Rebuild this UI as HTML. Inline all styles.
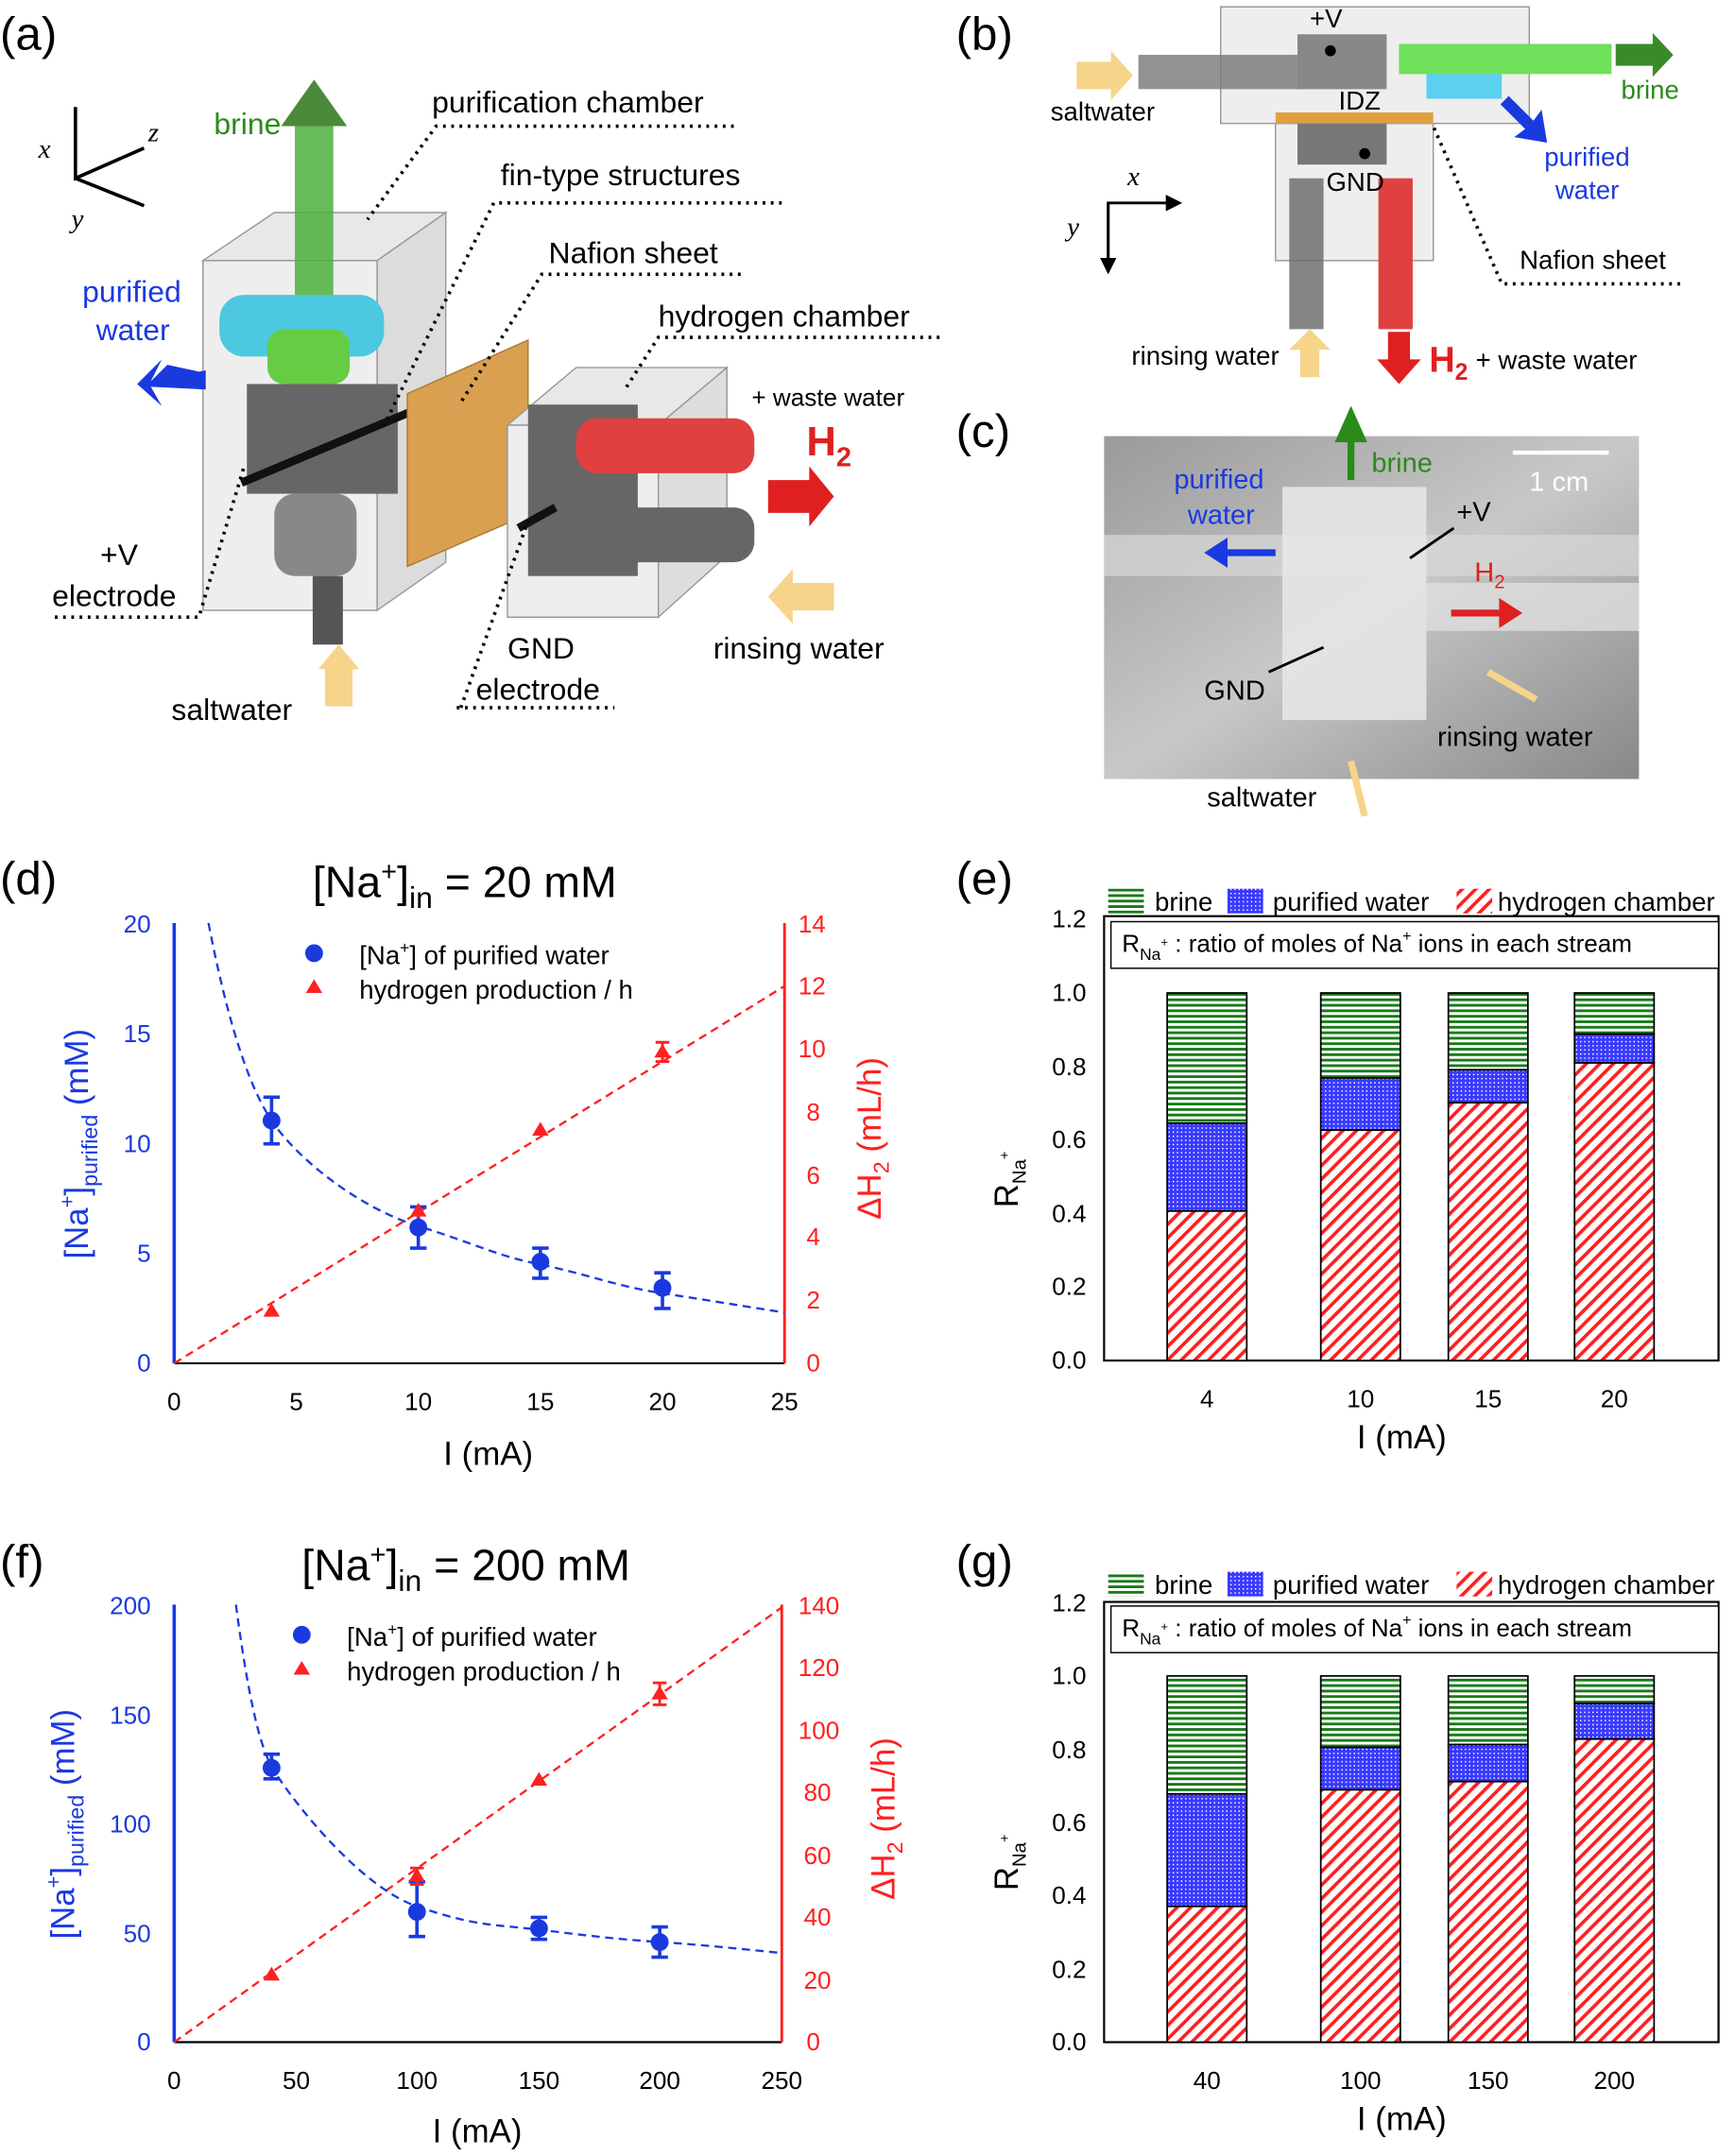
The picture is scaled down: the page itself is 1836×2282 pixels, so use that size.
<!DOCTYPE html>
<html><head><meta charset="utf-8"><style>html,body{margin:0;padding:0;background:#fff}svg{display:block}</style></head>
<body>
<svg xmlns="http://www.w3.org/2000/svg" width="1836" height="2282" viewBox="0 0 1265 1572" preserveAspectRatio="none" font-family="Liberation Sans, Arial, sans-serif">
<defs>
<pattern id="pg" width="6" height="4" patternUnits="userSpaceOnUse"><rect width="6" height="4" fill="#fff"/><rect width="6" height="2" fill="#1a7a1a"/></pattern>
<pattern id="pb" width="3" height="3" patternUnits="userSpaceOnUse"><rect width="3" height="3" fill="#3a3aff"/><rect width="1" height="1" fill="#fff"/></pattern>
<pattern id="pr" width="7" height="7" patternUnits="userSpaceOnUse" patternTransform="rotate(45)"><rect width="7" height="7" fill="#fff"/><rect width="2.5" height="7" fill="#ff2020"/></pattern>
<linearGradient id="ph" x1="0" y1="0" x2="1" y2="1"><stop offset="0" stop-color="#9a9a9a"/><stop offset="0.5" stop-color="#c8c8c8"/><stop offset="1" stop-color="#888"/></linearGradient>
<marker id="ah" markerWidth="6" markerHeight="6" refX="5" refY="3" orient="auto"><path d="M0,0L6,3L0,6z" fill="#000"/></marker>
</defs>
<!-- panel labels -->
<g font-size="34" fill="#000">
<text x="0" y="36">(a)</text><text x="697" y="36">(b)</text><text x="697" y="326">(c)</text>
<text x="0" y="652">(d)</text><text x="697" y="652">(e)</text><text x="0" y="1150">(f)</text><text x="697" y="1150">(g)</text>
</g>
<!-- (a) schematic -->
<g>
<path d="M55,78 V130 L105,108 M55,130 L105,150" stroke="#000" stroke-width="2.5" fill="none"/>
<text x="28" y="115" font-size="20" font-style="italic" font-family="Liberation Serif">x</text>
<text x="108" y="103" font-size="20" font-style="italic" font-family="Liberation Serif">z</text>
<text x="52" y="166" font-size="20" font-style="italic" font-family="Liberation Serif">y</text>
<path d="M148,190 L200,155 H325 L275,190 Z" fill="#e8e8e8" stroke="#999"/>
<rect x="148" y="190" width="127" height="255" fill="#eeeeee" stroke="#999"/>
<path d="M275,190 L325,155 V410 L275,445Z" fill="#dcdcdc" stroke="#999"/>
<rect x="215" y="90" width="28" height="160" fill="#4caf3c" opacity="0.85"/>
<path d="M205,92 L229,58 L253,92Z" fill="#4a8a3a"/>
<rect x="160" y="215" width="120" height="45" rx="18" fill="#4cc8e0"/>
<rect x="195" y="240" width="60" height="40" rx="12" fill="#66cc44"/>
<rect x="180" y="280" width="110" height="80" fill="#666"/>
<rect x="200" y="360" width="60" height="60" rx="15" fill="#888"/>
<rect x="228" y="420" width="22" height="50" fill="#555"/>
<path d="M170,278 L230,255" stroke="#000" stroke-width="0"/>
<line x1="176" y1="352" x2="300" y2="300" stroke="#111" stroke-width="6"/>
<path d="M150,272 L108,280 L122,266 Z M108,280 L120,292" fill="#1a3adf"/>
<path d="M150,270 L110,278 L118,262 L100,280 L118,296 L110,282 L150,284Z" fill="#1a3adf"/>
<rect x="237" y="485" width="20" height="30" fill="#f6d48a"/><path d="M232,488 L247,470 L262,488Z" fill="#f6d48a"/>
<path d="M297,287 L385,248 V375 L297,413Z" fill="#d8a050" stroke="#b07a30"/>
<path d="M370,310 L420,268 H530 L480,310Z" fill="#e8e8e8" stroke="#999"/>
<rect x="370" y="310" width="110" height="140" fill="#eee" stroke="#999"/>
<path d="M480,310 L530,268 V405 L480,450Z" fill="#ddd" stroke="#999"/>
<rect x="385" y="295" width="80" height="125" fill="#666"/>
<rect x="420" y="305" width="130" height="40" rx="15" fill="#e04040"/>
<rect x="430" y="370" width="120" height="40" rx="15" fill="#666"/>
<line x1="378" y1="385" x2="405" y2="370" stroke="#111" stroke-width="6"/>
<path d="M560,350 L590,350 L590,340 L608,362 L590,384 L590,374 L560,374Z" fill="#e02020"/>
<path d="M608,425 L578,425 L578,415 L560,435 L578,455 L578,445 L608,445Z" fill="#f6d48a"/>
<g font-size="22" fill="#000">
<text x="156" y="98" fill="#2a8a1a">brine</text>
<text x="315" y="82">purification chamber</text>
<text x="365" y="135">fin-type structures</text>
<text x="400" y="192">Nafion sheet</text>
<text x="480" y="238">hydrogen chamber</text>
<text x="60" y="220" fill="#1a3adf">purified</text><text x="70" y="248" fill="#1a3adf">water</text>
<text x="548" y="296" font-size="18">+ waste water</text>
<text x="588" y="332" fill="#e02020" font-size="30" font-weight="bold">H<tspan font-size="20" dy="8">2</tspan></text>
<text x="73" y="412">+V</text><text x="38" y="442">electrode</text>
<text x="370" y="480">GND</text><text x="347" y="510">electrode</text>
<text x="520" y="480">rinsing water</text>
<text x="125" y="525">saltwater</text>
</g>
<g stroke="#000" stroke-width="2.5" stroke-dasharray="2,4" fill="none">
<path d="M535,92 H318 L268,160"/><path d="M570,148 H360 L280,310"/><path d="M540,200 H395 L335,295"/>
<path d="M685,246 H480 L455,285"/><path d="M40,450 H145 L178,340"/><path d="M333,516 H448 M336,516 L385,380"/>
</g>
</g>
<!-- (b) -->
<g>
<rect x="890" y="5" width="225" height="85" fill="#eee" stroke="#999"/>
<rect x="930" y="90" width="115" height="100" fill="#eee" stroke="#999"/>
<rect x="830" y="40" width="120" height="25" fill="#777" opacity="0.8"/>
<rect x="1020" y="32" width="155" height="22" fill="#6ee05a"/>
<rect x="1040" y="54" width="55" height="18" fill="#5cd0ef"/>
<rect x="946" y="25" width="65" height="40" fill="#888"/>
<rect x="930" y="82" width="115" height="8" fill="#e0a040"/>
<rect x="946" y="90" width="65" height="30" fill="#777"/>
<rect x="940" y="130" width="25" height="110" fill="#666" opacity="0.8"/>
<rect x="1005" y="130" width="25" height="110" fill="#e04040"/>
<path d="M1178,32 H1205 V24 L1220,40 L1205,56 V48 H1178Z" fill="#3a8a2a"/>
<path d="M785,45 H810 V37 L826,55 L810,73 V65 H785Z" fill="#f6d48a"/>
<path d="M1100,70 L1118,88 L1124,80 L1128,104 L1104,100 L1112,94 L1094,76Z" fill="#1a3adf"/>
<path d="M948,275 V255 H940 L955,240 L970,255 H962 V275Z" fill="#f6d48a"/>
<path d="M1012,242 V262 H1004 L1020,280 L1036,262 H1028 V242Z" fill="#e02020"/>
<circle cx="970" cy="37" r="4"/><circle cx="995" cy="112" r="4"/>
<path d="M808,198 V148 H860" stroke="#000" stroke-width="2" fill="none" marker-end="url(#ah)"/>
<path d="M808,148 V198" stroke="#000" stroke-width="2" fill="none" marker-end="url(#ah)"/>
<g font-size="19">
<text x="955" y="20">+V</text><text x="976" y="80">IDZ</text><text x="967" y="139">GND</text>
<text x="766" y="88">saltwater</text><text x="1182" y="72" fill="#2a8a1a">brine</text>
<text x="1126" y="121" fill="#1a3adf">purified</text><text x="1134" y="145" fill="#1a3adf">water</text>
<text x="1108" y="196">Nafion sheet</text>
<text x="825" y="266">rinsing water</text>
<text x="1042" y="271" fill="#e02020" font-size="26" font-weight="bold">H<tspan font-size="17" dy="6">2</tspan></text>
<text x="1076" y="269">+ waste water</text>
<text x="822" y="135" font-style="italic" font-family="Liberation Serif" font-size="20">x</text>
<text x="778" y="172" font-style="italic" font-family="Liberation Serif" font-size="20">y</text>
</g>
<path d="M1225,207 H1095 L1045,92" stroke="#000" stroke-width="2.5" stroke-dasharray="2,4" fill="none"/>
</g>
<!-- (c) photo -->
<g>
<rect x="805" y="318" width="390" height="250" fill="url(#ph)"/>
<rect x="805" y="390" width="390" height="30" fill="#d8d8d8" opacity="0.7"/>
<rect x="935" y="355" width="105" height="170" fill="#e6e6e6" opacity="0.9"/>
<rect x="1040" y="425" width="155" height="35" fill="#dedede" opacity="0.8"/>
<line x1="1103" y1="330" x2="1173" y2="330" stroke="#fff" stroke-width="3"/>
<text x="1115" y="358" font-size="20" fill="#fff">1 cm</text>
<path d="M985,350 V320 H977 L985,302 L993,320 H985" fill="#2a8a1a" stroke="#2a8a1a" stroke-width="5"/>
<path d="M930,403 H892" stroke="#1a3adf" stroke-width="5"/><path d="M878,403 L895,392 V414Z" fill="#1a3adf"/>
<path d="M1058,447 H1095" stroke="#e02020" stroke-width="5"/><path d="M1110,447 L1093,436 V458Z" fill="#e02020"/>
<path d="M1120,510 L1085,490" stroke="#f6d48a" stroke-width="5"/>
<path d="M995,595 L985,555" stroke="#f6d48a" stroke-width="5"/>
<line x1="1028" y1="407" x2="1060" y2="385" stroke="#000" stroke-width="2"/>
<line x1="925" y1="490" x2="965" y2="472" stroke="#000" stroke-width="2"/>
<g font-size="20">
<text x="1000" y="344" fill="#2a8a1a">brine</text>
<text x="856" y="356" fill="#1a3adf">purified</text><text x="866" y="382" fill="#1a3adf">water</text>
<text x="1062" y="380">+V</text>
<text x="1075" y="424" fill="#e02020">H<tspan font-size="14" dy="5">2</tspan></text>
<text x="878" y="510">GND</text>
<text x="1048" y="544">rinsing water</text>
<text x="880" y="588">saltwater</text>
</g>
</g>
<!-- (d) -->
<g>
<text x="228" y="654" font-size="32">[Na<tspan font-size="20" dy="-12">+</tspan><tspan dy="12">]</tspan><tspan font-size="22" dy="8">in</tspan><tspan dy="-8"> = 20 mM</tspan></text>
<line x1="127" y1="994" x2="572" y2="994" stroke="#000" stroke-width="1.5"/>
<line x1="127" y1="673" x2="127" y2="994" stroke="#1a3adf" stroke-width="2.5"/>
<line x1="572" y1="673" x2="572" y2="994" stroke="#ff2020" stroke-width="2"/>
<g font-size="18" text-anchor="middle">
<text x="127" y="1028">0</text><text x="216" y="1028">5</text><text x="305" y="1028">10</text><text x="394" y="1028">15</text><text x="483" y="1028">20</text><text x="572" y="1028">25</text>
</g>
<g font-size="18" fill="#1a3adf" text-anchor="end">
<text x="110" y="1000">0</text><text x="110" y="920">5</text><text x="110" y="840">10</text><text x="110" y="760">15</text><text x="110" y="680">20</text>
</g>
<g font-size="18" fill="#ff2020">
<text x="588" y="1000">0</text><text x="588" y="954">2</text><text x="588" y="908">4</text><text x="588" y="863">6</text><text x="588" y="817">8</text><text x="582" y="771">10</text><text x="582" y="725">12</text><text x="582" y="680">14</text>
</g>
<text x="356" y="1068" font-size="24" text-anchor="middle">I (mA)</text>
<text transform="translate(64,834) rotate(-90)" font-size="24" fill="#1a3adf" text-anchor="middle">[Na<tspan font-size="15" dy="-10">+</tspan><tspan dy="10">]</tspan><tspan font-size="16" dy="7">purified</tspan><tspan dy="-7"> (mM)</tspan></text>
<text transform="translate(642,830) rotate(-90)" font-size="24" fill="#ff2020" text-anchor="middle">ΔH<tspan font-size="16" dy="6">2</tspan><tspan dy="-6"> (mL/h)</tspan></text>
<line x1="127" y1="994" x2="572" y2="719" stroke="#ff2020" stroke-width="1.6" stroke-dasharray="6,4"/>
<path d="M152,673 C165,740 180,790 198,817 S260,880 305,894 S360,915 394,922 S450,938 483,943 S540,952 572,957" stroke="#1a3adf" stroke-width="1.6" stroke-dasharray="6,4" fill="none"/>
<g stroke="#1a3adf" stroke-width="2.5"><path d="M198,800V834M192,800h12M192,834h12M305,880V910M299,880h12M299,910h12M394,910V932M388,910h12M388,932h12M483,928V954M477,928h12M477,954h12"/></g>
<g fill="#1a3adf"><circle cx="198" cy="817" r="6.5"/><circle cx="305" cy="895" r="6.5"/><circle cx="394" cy="920" r="6.5"/><circle cx="483" cy="939" r="6.5"/></g>
<g stroke="#ff2020" stroke-width="2"><path d="M483,760V774M478,760h10M478,774h10M305,880V888"/></g>
<g fill="#ff2020"><path d="M198,950l6,10h-12z M305,877l6,10h-12z M394,818l6,10h-12z M483,761l6,10h-12z"/></g>
<circle cx="229" cy="695" r="6.5" fill="#1a3adf"/><path d="M229,714l6,10h-12z" fill="#ff2020"/>
<text x="262" y="703" font-size="19">[Na<tspan font-size="12" dy="-8">+</tspan><tspan dy="8">] of purified water</tspan></text>
<text x="262" y="728" font-size="19">hydrogen production / h</text>
</g>
<!-- (f) -->
<g>
<text x="220" y="1152" font-size="32">[Na<tspan font-size="20" dy="-12">+</tspan><tspan dy="12">]</tspan><tspan font-size="22" dy="8">in</tspan><tspan dy="-8"> = 200 mM</tspan></text>
<line x1="127" y1="1489" x2="570" y2="1489" stroke="#000" stroke-width="1.5"/>
<line x1="127" y1="1170" x2="127" y2="1489" stroke="#1a3adf" stroke-width="2.5"/>
<line x1="570" y1="1170" x2="570" y2="1489" stroke="#ff2020" stroke-width="2"/>
<g font-size="18" text-anchor="middle">
<text x="127" y="1523">0</text><text x="216" y="1523">50</text><text x="304" y="1523">100</text><text x="393" y="1523">150</text><text x="481" y="1523">200</text><text x="570" y="1523">250</text>
</g>
<g font-size="18" fill="#1a3adf" text-anchor="end">
<text x="110" y="1495">0</text><text x="110" y="1416">50</text><text x="110" y="1336">100</text><text x="110" y="1257">150</text><text x="110" y="1177">200</text>
</g>
<g font-size="18" fill="#ff2020">
<text x="588" y="1495">0</text><text x="586" y="1450">20</text><text x="586" y="1404">40</text><text x="586" y="1359">60</text><text x="586" y="1313">80</text><text x="582" y="1268">100</text><text x="582" y="1222">120</text><text x="582" y="1177">140</text>
</g>
<text x="348" y="1562" font-size="24" text-anchor="middle">I (mA)</text>
<text transform="translate(54,1330) rotate(-90)" font-size="24" fill="#1a3adf" text-anchor="middle">[Na<tspan font-size="15" dy="-10">+</tspan><tspan dy="10">]</tspan><tspan font-size="16" dy="7">purified</tspan><tspan dy="-7"> (mM)</tspan></text>
<text transform="translate(652,1326) rotate(-90)" font-size="24" fill="#ff2020" text-anchor="middle">ΔH<tspan font-size="16" dy="6">2</tspan><tspan dy="-6"> (mL/h)</tspan></text>
<line x1="127" y1="1489" x2="570" y2="1172" stroke="#ff2020" stroke-width="1.6" stroke-dasharray="6,4"/>
<path d="M172,1170 C180,1230 188,1270 198,1288 S260,1375 304,1390 S360,1403 393,1407 S450,1414 481,1416 S540,1421 570,1424" stroke="#1a3adf" stroke-width="1.6" stroke-dasharray="6,4" fill="none"/>
<g stroke="#1a3adf" stroke-width="2.5"><path d="M198,1279V1297M192,1279h12M192,1297h12M304,1372V1412M298,1372h12M298,1412h12M393,1398V1414M387,1398h12M387,1414h12M481,1405V1427M475,1405h12M475,1427h12"/></g>
<g fill="#1a3adf"><circle cx="198" cy="1289" r="6.5"/><circle cx="304" cy="1394" r="6.5"/><circle cx="393" cy="1406" r="6.5"/><circle cx="481" cy="1416" r="6.5"/></g>
<g stroke="#ff2020" stroke-width="2"><path d="M481,1227V1243M476,1227h10M476,1243h10M304,1362V1374M299,1362h10M299,1374h10"/></g>
<g fill="#ff2020"><path d="M198,1434l6,10h-12z M304,1362l6,10h-12z M393,1292l6,10h-12z M481,1229l6,10h-12z"/></g>
<circle cx="220" cy="1192" r="6.5" fill="#1a3adf"/><path d="M220,1211l6,10h-12z" fill="#ff2020"/>
<text x="253" y="1200" font-size="19">[Na<tspan font-size="12" dy="-8">+</tspan><tspan dy="8">] of purified water</tspan></text>
<text x="253" y="1225" font-size="19">hydrogen production / h</text>
</g>
<!-- (e) -->
<g>
<rect x="808" y="648" width="26" height="18" fill="url(#pg)"/><text x="842" y="664" font-size="19">brine</text>
<rect x="895" y="648" width="26" height="18" fill="url(#pb)"/><text x="928" y="664" font-size="19">purified water</text>
<rect x="1062" y="648" width="26" height="18" fill="url(#pr)"/><text x="1092" y="664" font-size="19">hydrogen chamber</text>
<rect x="805" y="668" width="448" height="324" fill="none" stroke="#000" stroke-width="1.5"/>
<rect x="810" y="672" width="443" height="34" fill="#fff" stroke="#000" stroke-width="1"/>
<text x="818" y="694" font-size="18">R<tspan font-size="12" dy="6">Na</tspan><tspan font-size="9" dy="-10">+</tspan><tspan dy="4"> : ratio of moles of Na</tspan><tspan font-size="11" dy="-8">+</tspan><tspan dy="8"> ions in each stream</tspan></text>
<g stroke="#000" stroke-width="1.2">
<rect x="851" y="724" width="58" height="95" fill="url(#pg)"/><rect x="851" y="819" width="58" height="64" fill="url(#pb)"/><rect x="851" y="883" width="58" height="109" fill="url(#pr)"/>
<rect x="963" y="724" width="58" height="62" fill="url(#pg)"/><rect x="963" y="786" width="58" height="38" fill="url(#pb)"/><rect x="963" y="824" width="58" height="168" fill="url(#pr)"/>
<rect x="1056" y="724" width="58" height="56" fill="url(#pg)"/><rect x="1056" y="780" width="58" height="24" fill="url(#pb)"/><rect x="1056" y="804" width="58" height="188" fill="url(#pr)"/>
<rect x="1148" y="724" width="58" height="30" fill="url(#pg)"/><rect x="1148" y="754" width="58" height="21" fill="url(#pb)"/><rect x="1148" y="775" width="58" height="217" fill="url(#pr)"/>
</g>
<g font-size="18" text-anchor="end"><text x="792" y="998">0.0</text><text x="792" y="944">0.2</text><text x="792" y="891">0.4</text><text x="792" y="837">0.6</text><text x="792" y="784">0.8</text><text x="792" y="730">1.0</text><text x="792" y="676">1.2</text></g>
<g font-size="18" text-anchor="middle"><text x="880" y="1026">4</text><text x="992" y="1026">10</text><text x="1085" y="1026">15</text><text x="1177" y="1026">20</text></g>
<text x="1022" y="1056" font-size="24" text-anchor="middle">I (mA)</text>
<text transform="translate(742,860) rotate(-90)" font-size="24" text-anchor="middle">R<tspan font-size="14" dy="6">Na</tspan><tspan font-size="10" dy="-12">+</tspan></text>
</g>
<!-- (g) -->
<g>
<rect x="808" y="1146" width="26" height="18" fill="url(#pg)"/><text x="842" y="1162" font-size="19">brine</text>
<rect x="895" y="1146" width="26" height="18" fill="url(#pb)"/><text x="928" y="1162" font-size="19">purified water</text>
<rect x="1062" y="1146" width="26" height="18" fill="url(#pr)"/><text x="1092" y="1162" font-size="19">hydrogen chamber</text>
<rect x="805" y="1168" width="448" height="321" fill="none" stroke="#000" stroke-width="1.5"/>
<rect x="810" y="1171" width="443" height="34" fill="#fff" stroke="#000" stroke-width="1"/>
<text x="818" y="1193" font-size="18">R<tspan font-size="12" dy="6">Na</tspan><tspan font-size="9" dy="-10">+</tspan><tspan dy="4"> : ratio of moles of Na</tspan><tspan font-size="11" dy="-8">+</tspan><tspan dy="8"> ions in each stream</tspan></text>
<g stroke="#000" stroke-width="1.2">
<rect x="851" y="1222" width="58" height="86" fill="url(#pg)"/><rect x="851" y="1308" width="58" height="82" fill="url(#pb)"/><rect x="851" y="1390" width="58" height="99" fill="url(#pr)"/>
<rect x="963" y="1222" width="58" height="52" fill="url(#pg)"/><rect x="963" y="1274" width="58" height="31" fill="url(#pb)"/><rect x="963" y="1305" width="58" height="184" fill="url(#pr)"/>
<rect x="1056" y="1222" width="58" height="50" fill="url(#pg)"/><rect x="1056" y="1272" width="58" height="27" fill="url(#pb)"/><rect x="1056" y="1299" width="58" height="190" fill="url(#pr)"/>
<rect x="1148" y="1222" width="58" height="20" fill="url(#pg)"/><rect x="1148" y="1242" width="58" height="26" fill="url(#pb)"/><rect x="1148" y="1268" width="58" height="221" fill="url(#pr)"/>
</g>
<g font-size="18" text-anchor="end"><text x="792" y="1495">0.0</text><text x="792" y="1442">0.2</text><text x="792" y="1388">0.4</text><text x="792" y="1335">0.6</text><text x="792" y="1282">0.8</text><text x="792" y="1228">1.0</text><text x="792" y="1175">1.2</text></g>
<g font-size="18" text-anchor="middle"><text x="880" y="1523">40</text><text x="992" y="1523">100</text><text x="1085" y="1523">150</text><text x="1177" y="1523">200</text></g>
<text x="1022" y="1553" font-size="24" text-anchor="middle">I (mA)</text>
<text transform="translate(742,1358) rotate(-90)" font-size="24" text-anchor="middle">R<tspan font-size="14" dy="6">Na</tspan><tspan font-size="10" dy="-12">+</tspan></text>
</g>
</svg>
</body></html>
